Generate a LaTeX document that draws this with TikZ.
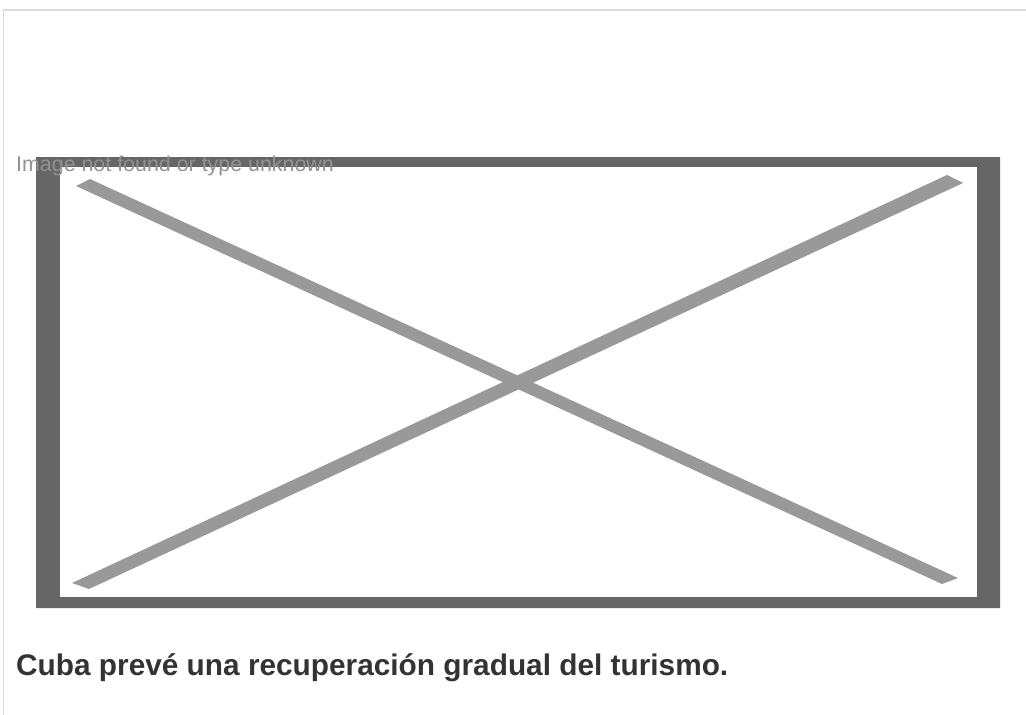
\documentclass[tikz,border=0pt]{standalone}
\usepackage{fontspec}
\setmainfont{Liberation Sans}
\usepackage{tikz}
\usetikzlibrary{positioning}
\definecolor{framegray}{HTML}{666666}
\definecolor{crossgray}{HTML}{999999}
\definecolor{edgegray}{HTML}{DADADA}
\definecolor{msggray}{HTML}{929292}
\definecolor{captiongray}{HTML}{333333}

\begin{document}
\begin{tikzpicture}[x = 1pt, y = -1pt]
			%\draw[help lines] (0,0) grid (1026,715);
			\useasboundingbox (0, 0) rectangle (1026, 715);
			\draw[edgegray, line width = 1.5pt] (3.5, 715) -- (3.5, 10) -- (1026, 10);
			
			\fill[framegray, even odd rule] (36, 157) rectangle (1000, 608) (60, 167) rectangle (977, 597);
			\fill[white] (60, 167) rectangle (977, 597);
			
			\fill[crossgray] (90, 179) -- (958, 578) -- (942, 584) -- (76, 186) -- cycle;
			\fill[crossgray] (947, 175) -- (963, 183) -- (89, 589) -- (72, 583) -- cycle;
			
			\node[anchor = base west, inner sep = 0, text = msggray, font = \fontsize{21.4}{25}\selectfont] (msg) at (16, 171) {Image not found or type unknown};
			\node[anchor = base west, inner sep = 0, text = captiongray, font = \fontsize{29.8}{36}\selectfont\bfseries] (caption) at (16, 675) {Cuba prevé una recuperación gradual del turismo.};
		\end{tikzpicture}
\end{document}
